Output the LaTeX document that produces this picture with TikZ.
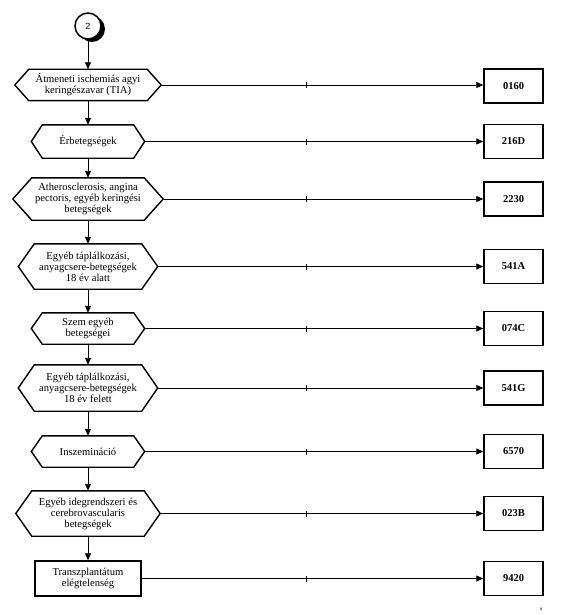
\documentclass[tikz,border=0pt]{standalone}
\usepackage{fontspec}
\setmainfont{Liberation Serif}
\newfontfamily\arialfont{Liberation Sans}
\usetikzlibrary{arrows.meta}
\tikzset{
  base/.style={inner sep=0pt, align=center, font=\fontsize{10.6}{11}\selectfont},
  hexnode/.style={base},
  rectnode/.style={base, draw, line width=1.5pt},
  codebox/.style={draw, line width=1.5pt, minimum width=59pt, minimum height=34pt, inner sep=0pt, font=\fontsize{10.5}{11}\selectfont\bfseries},
  hexline/.style={line width=1.4pt, line join=miter},
  conn/.style={line width=0.9pt, -{Triangle[length=7pt,width=6pt]}},
  tickmark/.style={fill=black, minimum width=1pt, minimum height=6pt, inner sep=0pt},
  circnode/.style={circle, draw, line width=1.5pt, fill=white, minimum size=26pt, inner sep=0pt, font=\arialfont\fontsize{9}{9}\selectfont},
  circshadow/.style={circle, fill=black, minimum size=26pt, inner sep=0pt},
}
\newcommand{\hexdraw}[2]{\draw[hexline] (#1.west) -- ([xshift=#2pt]#1.north west) -- ([xshift=-#2pt]#1.north east) -- (#1.east) -- ([xshift=-#2pt]#1.south east) -- ([xshift=#2pt]#1.south west) -- cycle;}
\begin{document}
\begin{tikzpicture}[x=1pt,y=-1pt]
\useasboundingbox (0,0) rectangle (572,615);
% start connector
\node[circshadow] (c0s) at (92,29) {};
\node[circnode] (c0) at (88,26) {2};
% left column
\node[hexnode, minimum width=146pt, minimum height=31pt] (h1) at (88,85) {Átmeneti ischemiás agyi\\keringészavar (TIA)};
\node[hexnode, minimum width=113pt, minimum height=33pt] (h2) at (88,141.5) {Érbetegségek};
\node[hexnode, minimum width=150pt, minimum height=42pt] (h3) at (88,199) {Atherosclerosis, angina\\pectoris, egyéb keringési\\betegségek};
\node[hexnode, minimum width=139pt, minimum height=45pt] (h4) at (88,266.5) {Egyéb táplálkozási,\\anyagcsere-betegségek\\18 év alatt};
\node[hexnode, minimum width=113pt, minimum height=31pt] (h5) at (88,328.5) {Szem egyéb\\betegségei};
\node[hexnode, minimum width=139pt, minimum height=46pt] (h6) at (88,388) {Egyéb táplálkozási,\\anyagcsere-betegségek\\18 év felett};
\node[hexnode, minimum width=113pt, minimum height=31pt] (h7) at (88,451.5) {Inszemináció};
\node[hexnode, minimum width=144pt, minimum height=45pt] (h8) at (88,513.5) {Egyéb idegrendszeri és\\cerebrovascularis\\betegségek};
\node[rectnode, minimum width=106pt, minimum height=35pt] (h9) at (88,578.5) {Transzplantátum\\elégtelenség};
\hexdraw{h1}{14}
\hexdraw{h2}{11}
\hexdraw{h3}{19}
\hexdraw{h4}{16}
\hexdraw{h5}{11}
\hexdraw{h6}{16}
\hexdraw{h7}{11}
\hexdraw{h8}{16}
% right column
\node[codebox] (b1) at (513.5,86) {0160};
\node[codebox] (b2) at (513.5,141.5) {216D};
\node[codebox] (b3) at (513.5,199) {2230};
\node[codebox] (b4) at (513.5,266.5) {541A};
\node[codebox] (b5) at (513.5,328.5) {074C};
\node[codebox] (b6) at (513.5,388) {541G};
\node[codebox] (b7) at (513.5,451.5) {6570};
\node[codebox] (b8) at (513.5,513.5) {023B};
\node[codebox] (b9) at (513.5,578.5) {9420};
% vertical flow
\draw[conn] (c0.south) -- (h1.north);
\foreach \a/\b in {h1/h2,h2/h3,h3/h4,h4/h5,h5/h6,h6/h7,h7/h8,h8/h9}{
  \draw[conn] (\a.south) -- (\b.north);
}
% horizontal connectors with tick marks
\coordinate (tx) at (306,0);
\foreach \i in {1,...,9}{
  \draw[conn] (h\i.east) -- (h\i.east -| b\i.west);
  \node[tickmark] (t\i) at (h\i.east -| tx) {};
}
\node[font=\fontsize{5}{5}\selectfont\itshape] (nn) at (541,609) {n};
\end{tikzpicture}
\end{document}
